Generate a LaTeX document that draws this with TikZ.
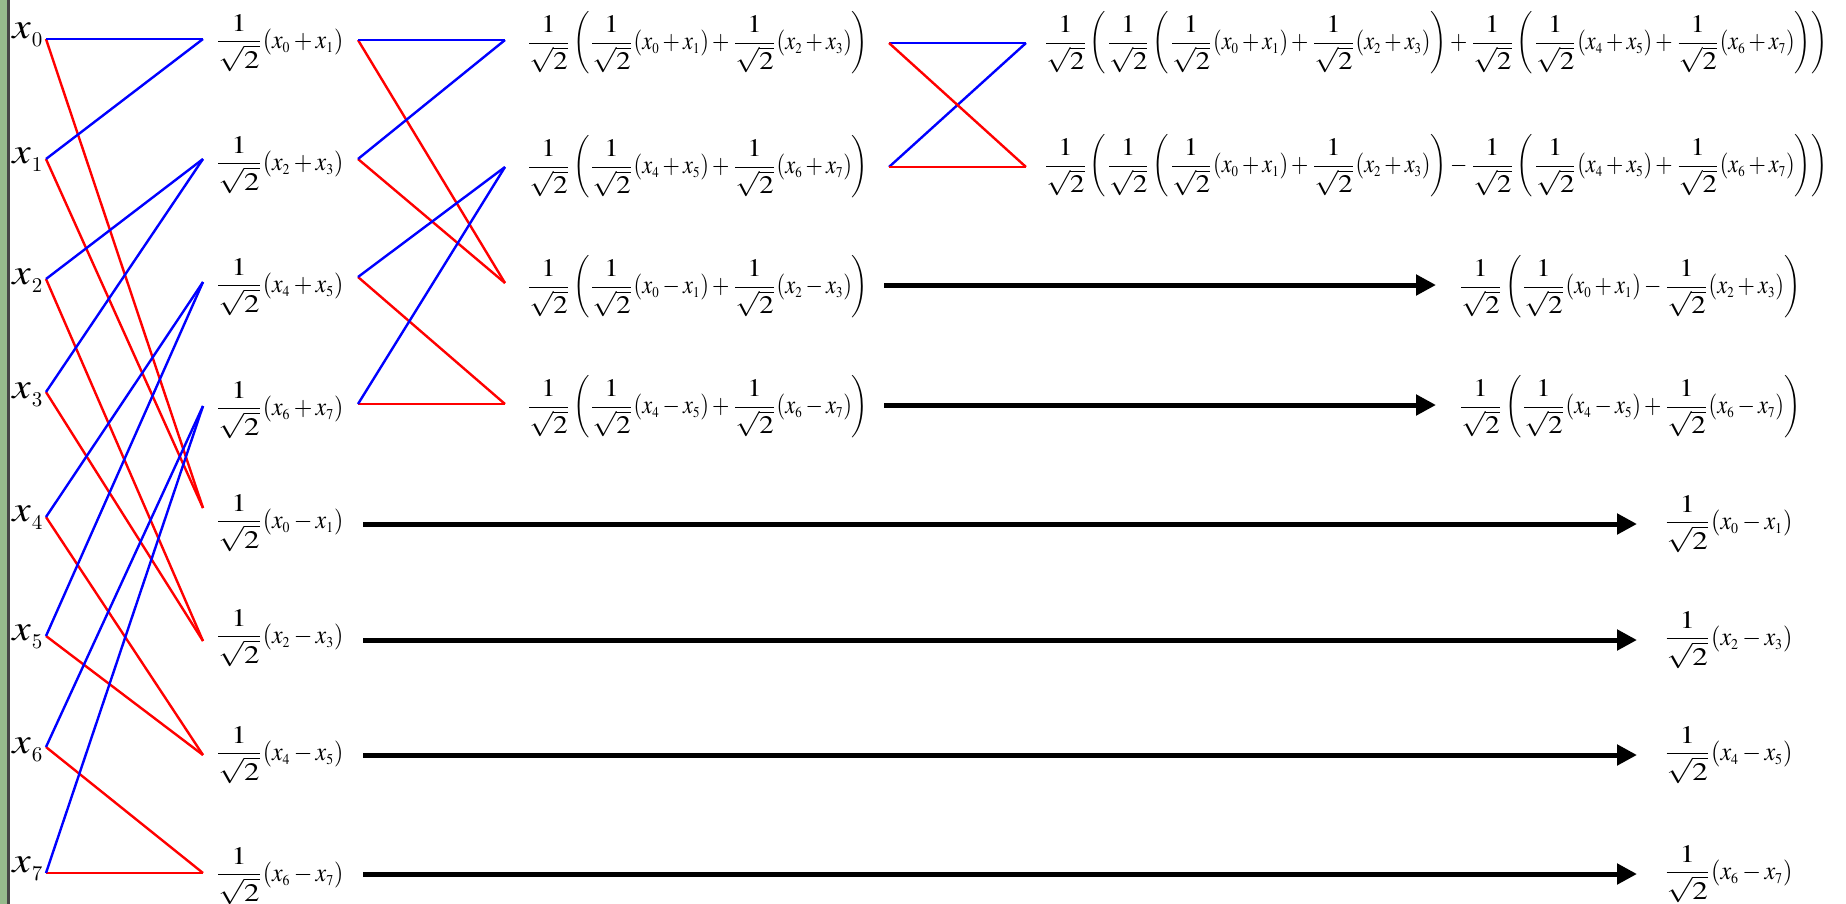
\documentclass[tikz,border=0pt]{standalone}
\usepackage{mathptmx}
\usepackage{graphicx}
\usetikzlibrary{arrows.meta}
\DeclareMathSizes{13}{13}{7.5}{5}
\definecolor{strip}{RGB}{150,186,140}
\definecolor{stripline}{RGB}{70,70,70}
\newcommand{\isq}{\mathord{\scalebox{1.4}[1.05]{\fontsize{12}{14}\selectfont$\displaystyle\frac{1}{\sqrt{2}}$}}}
\newcommand{\fitm}[2]{\resizebox{#1}{\height}{\fontsize{13}{15}\selectfont\delimiterfactor=800 \delimitershortfall=10pt $\displaystyle #2$}}
\newcommand{\xlab}[1]{\scalebox{1.15}[1]{\fontsize{18}{20}\selectfont$x$}\kern0.5pt\raisebox{-4pt}{\fontsize{10.5}{12}\selectfont #1}}
\tikzset{
  plus/.style={draw=blue, line width=1.2pt},
  minus/.style={draw=red, line width=1.2pt},
  pass/.style={draw=black, line width=2.5pt, -{Triangle[length=10pt,width=10pt]}},
  lbl/.style={inner sep=0pt, anchor=base west},
  expr/.style={inner sep=0pt, anchor=west},
}
\begin{document}
\begin{tikzpicture}[x=0.5pt,y=-0.5pt]
\useasboundingbox (0,0) rectangle (1846,904);
\fill[strip] (0,0) rectangle (7,904);
\fill[stripline] (7,0) rectangle (10,904);

% input labels
\foreach \i/\y in {0/39,1/163,2/284,3/398,4/521,5/640,6/753,7/872}
  \node[lbl] (x\i) at (12,\y) {\xlab{\i}};

% junction coordinates
\foreach \i/\y in {0/39,1/159,2/279,3/392,4/517,5/636,6/747,7/873}
  \coordinate (L\i) at (46,\y);
\foreach \i/\y in {0/39,1/159,2/282,3/406,4/508,5/641,6/755,7/873}
  \coordinate (A\i) at (203,\y);
\foreach \i/\y in {0/40,1/159,2/277,3/404}
  \coordinate (B\i) at (358,\y);
\foreach \i/\y in {0/40,1/167,2/283,3/404}
  \coordinate (C\i) at (505,\y);
\foreach \i/\y in {0/43,1/167}
  \coordinate (D\i) at (889,\y);
\foreach \i/\y in {0/43,1/167}
  \coordinate (E\i) at (1026,\y);
\foreach \i/\y in {2/285,3/405}
  {\coordinate (P\i) at (884,\y); \coordinate (Q\i) at (1436,\y);}
\foreach \i/\y in {4/524,5/640,6/755,7/874}
  {\coordinate (P\i) at (363,\y); \coordinate (Q\i) at (1637,\y);}

% stage 1 expressions
\node[expr] (s1r0) at (215,43)  {\fitm{64pt}{\isq(x_0+x_1)}};
\node[expr] (s1r1) at (215,165) {\fitm{64pt}{\isq(x_2+x_3)}};
\node[expr] (s1r2) at (215,287) {\fitm{64pt}{\isq(x_4+x_5)}};
\node[expr] (s1r3) at (215,410) {\fitm{64pt}{\isq(x_6+x_7)}};
\node[expr] (s1r4) at (215,523) {\fitm{64pt}{\isq(x_0-x_1)}};
\node[expr] (s1r5) at (215,638) {\fitm{64pt}{\isq(x_2-x_3)}};
\node[expr] (s1r6) at (215,755) {\fitm{64pt}{\isq(x_4-x_5)}};
\node[expr] (s1r7) at (215,876) {\fitm{64pt}{\isq(x_6-x_7)}};

% stage 2 expressions
\node[expr] (s2r0) at (526,43)  {\fitm{171pt}{\isq\left(\isq(x_0+x_1)+\isq(x_2+x_3)\right)}};
\node[expr] (s2r1) at (526,167) {\fitm{171pt}{\isq\left(\isq(x_4+x_5)+\isq(x_6+x_7)\right)}};
\node[expr] (s2r2) at (526,287) {\fitm{171pt}{\isq\left(\isq(x_0-x_1)+\isq(x_2-x_3)\right)}};
\node[expr] (s2r3) at (526,407) {\fitm{171pt}{\isq\left(\isq(x_4-x_5)+\isq(x_6-x_7)\right)}};

% stage 3 expressions
\node[expr] (s3r0) at (1043,43)  {\fitm{392pt}{\isq\left(\isq\left(\isq(x_0+x_1)+\isq(x_2+x_3)\right)+\isq\left(\isq(x_4+x_5)+\isq(x_6+x_7)\right)\right)}};
\node[expr] (s3r1) at (1043,166) {\fitm{392pt}{\isq\left(\isq\left(\isq(x_0+x_1)+\isq(x_2+x_3)\right)-\isq\left(\isq(x_4+x_5)+\isq(x_6+x_7)\right)\right)}};
\node[expr] (s3r2) at (1458,287) {\fitm{171pt}{\isq\left(\isq(x_0+x_1)-\isq(x_2+x_3)\right)}};
\node[expr] (s3r3) at (1458,407) {\fitm{171pt}{\isq\left(\isq(x_4-x_5)+\isq(x_6-x_7)\right)}};

% final pass-through expressions
\node[expr] (f4) at (1663,524) {\fitm{64.5pt}{\isq(x_0-x_1)}};
\node[expr] (f5) at (1663,640) {\fitm{64.5pt}{\isq(x_2-x_3)}};
\node[expr] (f6) at (1663,755) {\fitm{64.5pt}{\isq(x_4-x_5)}};
\node[expr] (f7) at (1663,874) {\fitm{64.5pt}{\isq(x_6-x_7)}};

% stage 1 butterflies
\draw[minus] (L0) -- (A4); \draw[minus] (L1) -- (A4);
\draw[minus] (L2) -- (A5); \draw[minus] (L3) -- (A5);
\draw[minus] (L4) -- (A6); \draw[minus] (L5) -- (A6);
\draw[minus] (L6) -- (A7); \draw[minus] (L7) -- (A7);
\draw[plus] (L0) -- (A0); \draw[plus] (L1) -- (A0);
\draw[plus] (L2) -- (A1); \draw[plus] (L3) -- (A1);
\draw[plus] (L4) -- (A2); \draw[plus] (L5) -- (A2);
\draw[plus] (L6) -- (A3); \draw[plus] (L7) -- (A3);

% stage 2 butterflies
\draw[minus] (B0) -- (C2); \draw[minus] (B1) -- (C2);
\draw[minus] (B2) -- (C3); \draw[minus] (B3) -- (C3);
\draw[plus] (B0) -- (C0); \draw[plus] (B1) -- (C0);
\draw[plus] (B2) -- (C1); \draw[plus] (B3) -- (C1);

% stage 3 butterfly
\draw[plus] (D0) -- (E0); \draw[plus] (D1) -- (E0);
\draw[minus] (D0) -- (E1); \draw[minus] (D1) -- (E1);

% pass-through arrows
\foreach \i in {2,3,4,5,6,7}
  \draw[pass] (P\i) -- (Q\i);
\end{tikzpicture}
\end{document}
